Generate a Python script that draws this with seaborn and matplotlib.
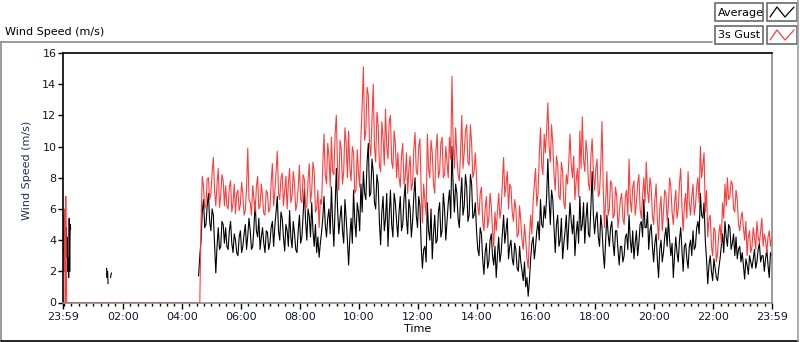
import numpy as np
import pandas as pd
import matplotlib
matplotlib.use("Agg")
import matplotlib.pyplot as plt
import seaborn as sns
from matplotlib.patches import Rectangle
from matplotlib.lines import Line2D

# x axis is minutes after 23:59
tick_minutes = [0, 121, 241, 361, 481, 601, 721, 841, 961, 1081, 1201, 1321, 1440]
tick_labels = ["23:59", "02:00", "04:00", "06:00", "08:00", "10:00", "12:00",
               "14:00", "16:00", "18:00", "20:00", "22:00", "23:59"]
y_ticks = [0, 2, 4, 6, 8, 10, 12, 14, 16]

# 3s gust: 1-min samples right after 23:59, then samples every 5 min from 04:35
gust_first = [3.5, 5.6, 2.0, 6.0, 0.0, 6.8, 2.5, 0.0]
gust_main = [0.0,
    5.2, 7.4, 6.3, 8.0, 7.0, 9.3, 6.2, 8.6, 6.9, 7.8,
    7.5, 6.0, 7.8, 6.4, 5.7, 7.2, 6.3, 6.9, 5.9, 9.9,
    6.4, 7.5, 5.8, 8.1, 6.2, 6.8, 5.6, 7.0, 6.0, 8.9,
    7.1, 9.7, 6.6, 8.3, 7.2, 6.0, 8.6, 6.8, 7.6, 6.3,
    8.8, 6.4, 7.9, 6.2, 8.9, 7.2, 8.4, 6.0, 4.8, 6.3,
    10.8, 7.6, 9.4, 10.6, 8.2, 12.0, 7.2, 9.8, 8.4, 10.2,
    11.0, 7.8, 9.6, 7.2, 8.4, 10.6, 15.1, 11.0, 13.3, 9.4,
    14.0, 9.0, 11.4, 8.4, 10.6, 12.4, 9.2, 12.0, 8.6, 10.2,
    9.6, 7.4, 10.2, 8.0, 7.0, 9.4, 7.6, 10.9, 8.2, 10.5,
    5.1, 6.5, 10.8, 8.0, 9.6, 7.0, 10.8, 8.4, 10.6, 8.2,
    9.0, 10.6, 14.5, 8.6, 9.4, 7.8, 12.0, 9.6, 11.4, 8.8,
    10.2, 8.4, 8.0, 5.6, 7.4, 4.6, 6.8, 5.4, 6.2, 3.6,
    4.6, 7.0, 6.0, 9.3, 7.6, 6.0, 7.4, 5.2, 6.0, 4.4,
    5.2, 3.4, 4.0, 2.2, 5.6, 6.4, 8.6, 7.0, 11.2, 8.2,
    9.6, 12.8, 9.0, 10.2, 7.2, 8.8, 6.6, 8.4, 6.0, 7.6,
    10.8, 8.0, 6.6, 8.6, 11.0, 11.9, 8.4, 9.6, 7.2, 10.5,
    7.2, 9.2, 7.0, 11.6, 4.8, 8.4, 6.0, 7.6, 5.6, 6.8,
    5.6, 7.0, 5.0, 7.2, 9.2, 5.8, 7.8, 6.4, 8.2, 5.4,
    8.0, 9.0, 6.4, 7.4, 5.0, 7.6, 4.0, 6.8, 5.8, 7.0,
    6.2, 7.4, 5.0, 7.2, 6.0, 8.6, 4.6, 7.0, 8.4, 5.6,
    7.6, 6.2, 8.0, 10.0, 8.8, 5.8, 4.2, 5.6, 3.0, 4.6,
    3.2, 5.0, 6.4, 7.6, 8.0, 6.8, 7.6, 5.8, 6.6, 4.6,
    5.8, 4.0, 3.0, 4.6, 3.6, 4.2, 5.2, 3.8, 5.4, 4.4, 3.2, 4.6, 4.2]
# samples halfway between the main ones (2.5 min later)
gust_half = [0.0,
    8.1, 6.0, 7.9, 6.6, 8.3, 7.2, 7.6, 6.1, 8.2, 6.2,
    6.2, 7.4, 5.8, 7.6, 7.0, 5.9, 7.7, 5.6, 7.4, 6.6,
    5.6, 6.6, 7.4, 6.0, 7.6, 5.7, 7.2, 5.8, 7.7, 6.2,
    8.4, 7.0, 8.0, 6.2, 8.1, 7.6, 6.4, 8.4, 5.9, 7.4,
    6.6, 8.2, 6.0, 7.8, 6.4, 9.0, 5.8, 7.2, 6.6, 8.8,
    8.2, 10.2, 7.4, 8.4, 10.8, 8.6, 10.4, 7.6, 11.2, 8.0,
    8.6, 10.0, 7.0, 9.8, 7.4, 12.6, 10.4, 13.8, 10.2, 11.8,
    10.0, 12.2, 8.8, 11.6, 8.8, 10.0, 11.6, 9.0, 11.0, 8.0,
    8.0, 9.4, 7.6, 9.6, 8.6, 7.2, 9.8, 8.4, 10.0, 7.2,
    7.6, 5.6, 8.6, 10.4, 7.6, 9.8, 8.0, 10.2, 8.0, 10.0,
    8.0, 9.2, 10.2, 11.2, 8.2, 9.6, 8.6, 11.0, 9.0, 11.4,
    8.0, 9.6, 6.2, 7.0, 5.2, 6.0, 4.8, 7.0, 4.6, 5.8,
    5.8, 5.4, 7.6, 6.8, 8.4, 7.6, 5.8, 6.6, 4.2, 6.2,
    4.0, 5.0, 2.8, 4.2, 4.4, 7.6, 6.2, 9.4, 8.8, 10.8,
    11.0, 10.0, 11.4, 8.2, 9.4, 6.8, 9.0, 6.4, 8.2, 9.0,
    8.8, 9.4, 7.8, 6.8, 8.6, 9.2, 10.4, 7.6, 9.4, 8.4,
    8.6, 6.8, 8.8, 7.4, 6.6, 5.6, 7.8, 5.4, 7.4, 4.8,
    6.6, 5.4, 6.8, 5.6, 6.6, 7.4, 5.6, 7.6, 6.0, 6.8,
    6.4, 7.2, 8.0, 5.6, 6.6, 5.4, 6.0, 4.6, 7.2, 5.2,
    8.0, 5.8, 6.4, 5.4, 7.6, 6.2, 6.2, 5.4, 6.4, 6.8,
    5.6, 7.4, 6.4, 8.0, 9.6, 7.2, 5.4, 3.6, 4.8, 2.6,
    4.4, 3.8, 5.4, 6.2, 6.6, 7.8, 6.0, 7.2, 5.0, 5.4,
    4.8, 5.2, 4.2, 3.2, 4.8, 3.4, 4.2, 4.6, 3.6, 4.0, 4.2, 3.6]

# average: short pieces (1-min) then the main run
avg_first = [4.5, 3.2, 5.2, 3.8, 4.6, 3.0, 4.8, 2.9, 4.2, 2.0, 2.8, 1.6, 5.4, 2.0, 5.0, 4.7]
avg_blip_a = [2.2, 1.6, 2.0, 1.2]
avg_blip_b = [1.6, 1.8, 1.9]
avg_main = [1.7,
    4.0, 6.6, 5.0, 7.0, 4.6, 5.6, 1.9, 4.8, 3.6, 5.0,
    4.8, 3.4, 5.2, 3.2, 4.0, 3.0, 4.6, 3.6, 5.0, 4.3,
    4.6, 3.6, 6.5, 4.2, 3.4, 4.8, 3.2, 4.5, 3.8, 5.2,
    4.9, 6.8, 4.0, 5.4, 3.3, 4.6, 5.9, 3.5, 4.4, 3.2,
    5.6, 4.2, 7.3, 4.0, 5.5, 6.4, 3.6, 3.2, 2.9, 4.5,
    6.8, 4.2, 6.0, 7.4, 3.6, 8.6, 4.4, 6.2, 3.8, 5.4,
    2.4, 5.4, 7.2, 4.2, 5.8, 7.6, 8.4, 6.6, 10.2, 7.0,
    8.4, 6.0, 7.6, 3.7, 6.8, 5.4, 3.6, 7.2, 4.2, 6.4,
    4.2, 6.8, 5.0, 7.6, 4.4, 6.0, 5.2, 8.0, 4.8, 6.2,
    2.2, 3.6, 6.4, 4.0, 2.8, 5.6, 4.0, 6.4, 4.6, 6.0,
    5.2, 7.2, 10.0, 5.8, 7.0, 4.8, 8.0, 6.2, 7.4, 5.6,
    7.6, 5.6, 4.6, 3.0, 4.4, 1.8, 3.8, 2.6, 4.4, 2.4,
    1.6, 4.2, 3.2, 5.6, 4.6, 2.8, 4.0, 2.4, 3.4, 2.0,
    2.6, 1.4, 1.0, 0.4, 2.8, 4.2, 3.6, 5.2, 6.6, 4.8,
    5.4, 9.2, 5.0, 6.6, 3.2, 5.6, 4.0, 2.8, 4.6, 3.4,
    6.4, 4.4, 3.0, 5.2, 6.8, 5.0, 3.8, 6.4, 4.2, 8.4,
    4.4, 5.8, 3.6, 4.8, 2.2, 5.6, 3.6, 5.2, 3.0, 4.6,
    2.4, 3.6, 3.0, 4.4, 5.6, 3.2, 2.8, 4.6, 3.8, 5.2,
    6.6, 4.8, 3.4, 5.0, 2.6, 4.4, 1.6, 4.0, 3.2, 4.8,
    5.4, 3.0, 1.6, 4.2, 2.6, 4.8, 2.0, 3.8, 2.2, 4.0,
    4.6, 3.6, 5.2, 7.0, 5.4, 4.0, 1.2, 3.0, 1.4, 2.2,
    1.4, 2.8, 4.4, 5.2, 3.6, 4.8, 3.8, 3.0, 2.8, 3.6,
    3.2, 1.5, 2.4, 3.0, 2.2, 3.4, 2.6, 3.8, 3.0, 2.0, 3.4, 1.6, 3.0]
avg_half = [3.0,
    5.8, 4.8, 6.2, 5.2, 6.0, 3.8, 3.6, 3.4, 5.2, 3.8,
    3.6, 4.6, 3.8, 4.4, 3.2, 4.2, 3.2, 4.4, 3.4, 5.4,
    3.4, 4.8, 4.6, 5.4, 4.2, 3.8, 4.6, 3.4, 4.8, 3.6,
    5.8, 4.6, 5.8, 4.2, 5.0, 3.6, 4.2, 5.2, 3.4, 4.6,
    3.8, 5.6, 5.2, 6.0, 4.2, 4.6, 5.0, 4.2, 3.8, 5.4,
    5.0, 5.4, 4.4, 5.2, 6.2, 6.0, 5.4, 4.6, 6.6, 4.0,
    4.2, 3.8, 5.2, 6.4, 4.6, 5.8, 7.0, 9.0, 6.8, 9.2,
    6.4, 8.2, 5.2, 5.8, 4.6, 7.0, 5.6, 5.0, 7.0, 5.2,
    5.8, 4.6, 6.6, 5.4, 6.6, 4.2, 6.8, 5.6, 6.8, 3.6,
    3.4, 2.6, 4.6, 6.0, 4.4, 3.8, 5.8, 4.2, 7.0, 4.0,
    6.4, 5.4, 7.4, 7.6, 5.4, 6.6, 5.6, 8.2, 5.2, 8.2,
    5.4, 6.4, 3.4, 4.8, 2.8, 3.2, 2.2, 4.0, 3.0, 3.6,
    3.0, 2.6, 4.4, 3.8, 5.4, 3.6, 2.8, 3.8, 2.2, 3.6,
    2.0, 2.6, 1.6, 1.4, 3.8, 2.8, 4.6, 4.0, 5.0, 6.2,
    6.8, 6.6, 7.2, 4.8, 5.0, 3.6, 5.4, 3.8, 5.6, 5.0,
    5.2, 5.6, 4.4, 3.8, 4.6, 6.4, 5.4, 4.4, 6.2, 5.6,
    5.4, 4.2, 5.6, 3.2, 4.0, 4.4, 4.8, 3.8, 4.6, 3.4,
    3.6, 2.6, 4.2, 3.4, 4.0, 4.6, 3.8, 3.0, 5.0, 4.2,
    4.8, 5.8, 4.6, 3.6, 3.8, 2.8, 3.4, 2.6, 4.2, 3.6,
    4.0, 3.8, 3.0, 3.2, 4.0, 3.4, 3.6, 2.8, 3.6, 3.0,
    3.4, 4.8, 4.4, 5.6, 6.4, 2.8, 2.4, 2.0, 2.8, 1.6,
    2.2, 3.6, 3.2, 4.2, 5.0, 3.4, 4.4, 4.2, 3.4, 2.6,
    2.4, 2.8, 1.8, 2.6, 2.8, 2.2, 3.4, 2.6, 3.0, 2.8, 2.4, 3.2]

MAIN_START = 275   # 04:34
BLIP_A_START = 88
BLIP_B_START = 96


def merge_run(main, half):
    t = np.r_[MAIN_START + 5 * np.arange(len(main)), MAIN_START + 2.5 + 5 * np.arange(len(half))]
    v = np.r_[main, half]
    order = np.argsort(t, kind="stable")
    return t[order], v[order]


gt, gv = merge_run(gust_main, gust_half)
gust_df = pd.DataFrame({
    "t": np.r_[np.arange(len(gust_first)), gt],
    "v": np.r_[gust_first, gv],
})

at, av = merge_run(avg_main, avg_half)
pieces = [(np.arange(len(avg_first)), avg_first),
          (BLIP_A_START + np.arange(len(avg_blip_a)), avg_blip_a),
          (BLIP_B_START + np.arange(len(avg_blip_b)), avg_blip_b),
          (at, av)]
avg_df = pd.concat([pd.DataFrame({"t": t, "v": v, "seg": k}) for k, (t, v) in enumerate(pieces)],
                   ignore_index=True)

sns.set_style("white")
plt.rcParams["font.family"] = ["DejaVu Sans"]

W, H = 800, 342
fig = plt.figure(figsize=(W / 100, H / 100), dpi=100)
fig.patch.set_facecolor("white")


def fx(x):
    return x / W


def fy(y):
    return 1 - y / H


ax = fig.add_axes([fx(63.3), fy(302.5), fx(771.7) - fx(63.3), fy(53) - fy(302.5)])

sns.lineplot(data=avg_df, x="t", y="v", units="seg", estimator=None, sort=False,
             color="black", lw=0.8, ax=ax)
sns.lineplot(data=gust_df, x="t", y="v", estimator=None, sort=False,
             color="#ff3c3c", lw=0.8, ax=ax)

ax.set_xlim(0, 1440)
ax.set_ylim(0, 16)
ax.set_xticks(tick_minutes)
ax.set_xticklabels(tick_labels)
ax.set_xticks(np.arange(1, 1440, 15), minor=True)
ax.set_yticks(y_ticks)
ax.tick_params(axis="both", which="major", direction="out", length=3.5, width=1,
               color="black", labelsize=8, labelcolor="#101830", pad=1.5)
ax.tick_params(axis="x", which="major", length=4, pad=3)
ax.tick_params(axis="x", which="minor", direction="out", length=2, width=1, color="black")
ax.tick_params(bottom=True, left=True, which="both")

ax.set_xlabel("Time", fontsize=8, color="black")
ax.xaxis.set_label_coords(0.5, -(324 - 302.5) / 250)
ax.set_ylabel("Wind Speed (m/s)", fontsize=8, color="#24305e")
ax.yaxis.set_label_coords((32 - 63.3) / 708.4, 0.53)

for side in ["top", "left"]:
    ax.spines[side].set_color("black")
    ax.spines[side].set_linewidth(1.2)
for side in ["bottom", "right"]:
    ax.spines[side].set_color("#8a8a8a")
    ax.spines[side].set_linewidth(1.2)


# outer chart frame
def fline(x0, y0, x1, y1, color, lw=1.2):
    fig.add_artist(Line2D([fx(x0), fx(x1)], [fy(y0), fy(y1)], transform=fig.transFigure,
                          color=color, lw=lw))


fline(0.5, 42, 712, 42, "#8a8a8a")
fline(0.8, 42, 0.8, 341, "#8a8a8a")
fline(0.5, 341, 798, 341, "black")
fline(798, 0, 798, 341, "#a0a0a0")

fig.text(fx(5), fy(32), "Wind Speed (m/s)", fontsize=8, color="black", va="center", ha="left")

# legend in the top-right corner
legend_rows = [("Average", "black", 3), ("3s Gust", "#ff3c3c", 26)]
for label, color, top in legend_rows:
    fig.add_artist(Rectangle((fx(715), fy(top + 18)), fx(48), fy(0) - fy(18),
                             transform=fig.transFigure, facecolor="white",
                             edgecolor="#6a6a6a", lw=1.2))
    fig.add_artist(Rectangle((fx(767), fy(top + 18)), fx(30), fy(0) - fy(18),
                             transform=fig.transFigure, facecolor="white",
                             edgecolor="#6a6a6a", lw=1.2))
    fig.text(fx(718), fy(top + 9.5), label, fontsize=8, color="black", va="center", ha="left")
    zx = [770, 777, 785, 794]
    zy = [top + 14, top + 4, top + 14, top + 4]
    fig.add_artist(Line2D([fx(v) for v in zx], [fy(v) for v in zy],
                          transform=fig.transFigure, color=color, lw=0.9))

fig.savefig("out.png", dpi=100, facecolor="white")
